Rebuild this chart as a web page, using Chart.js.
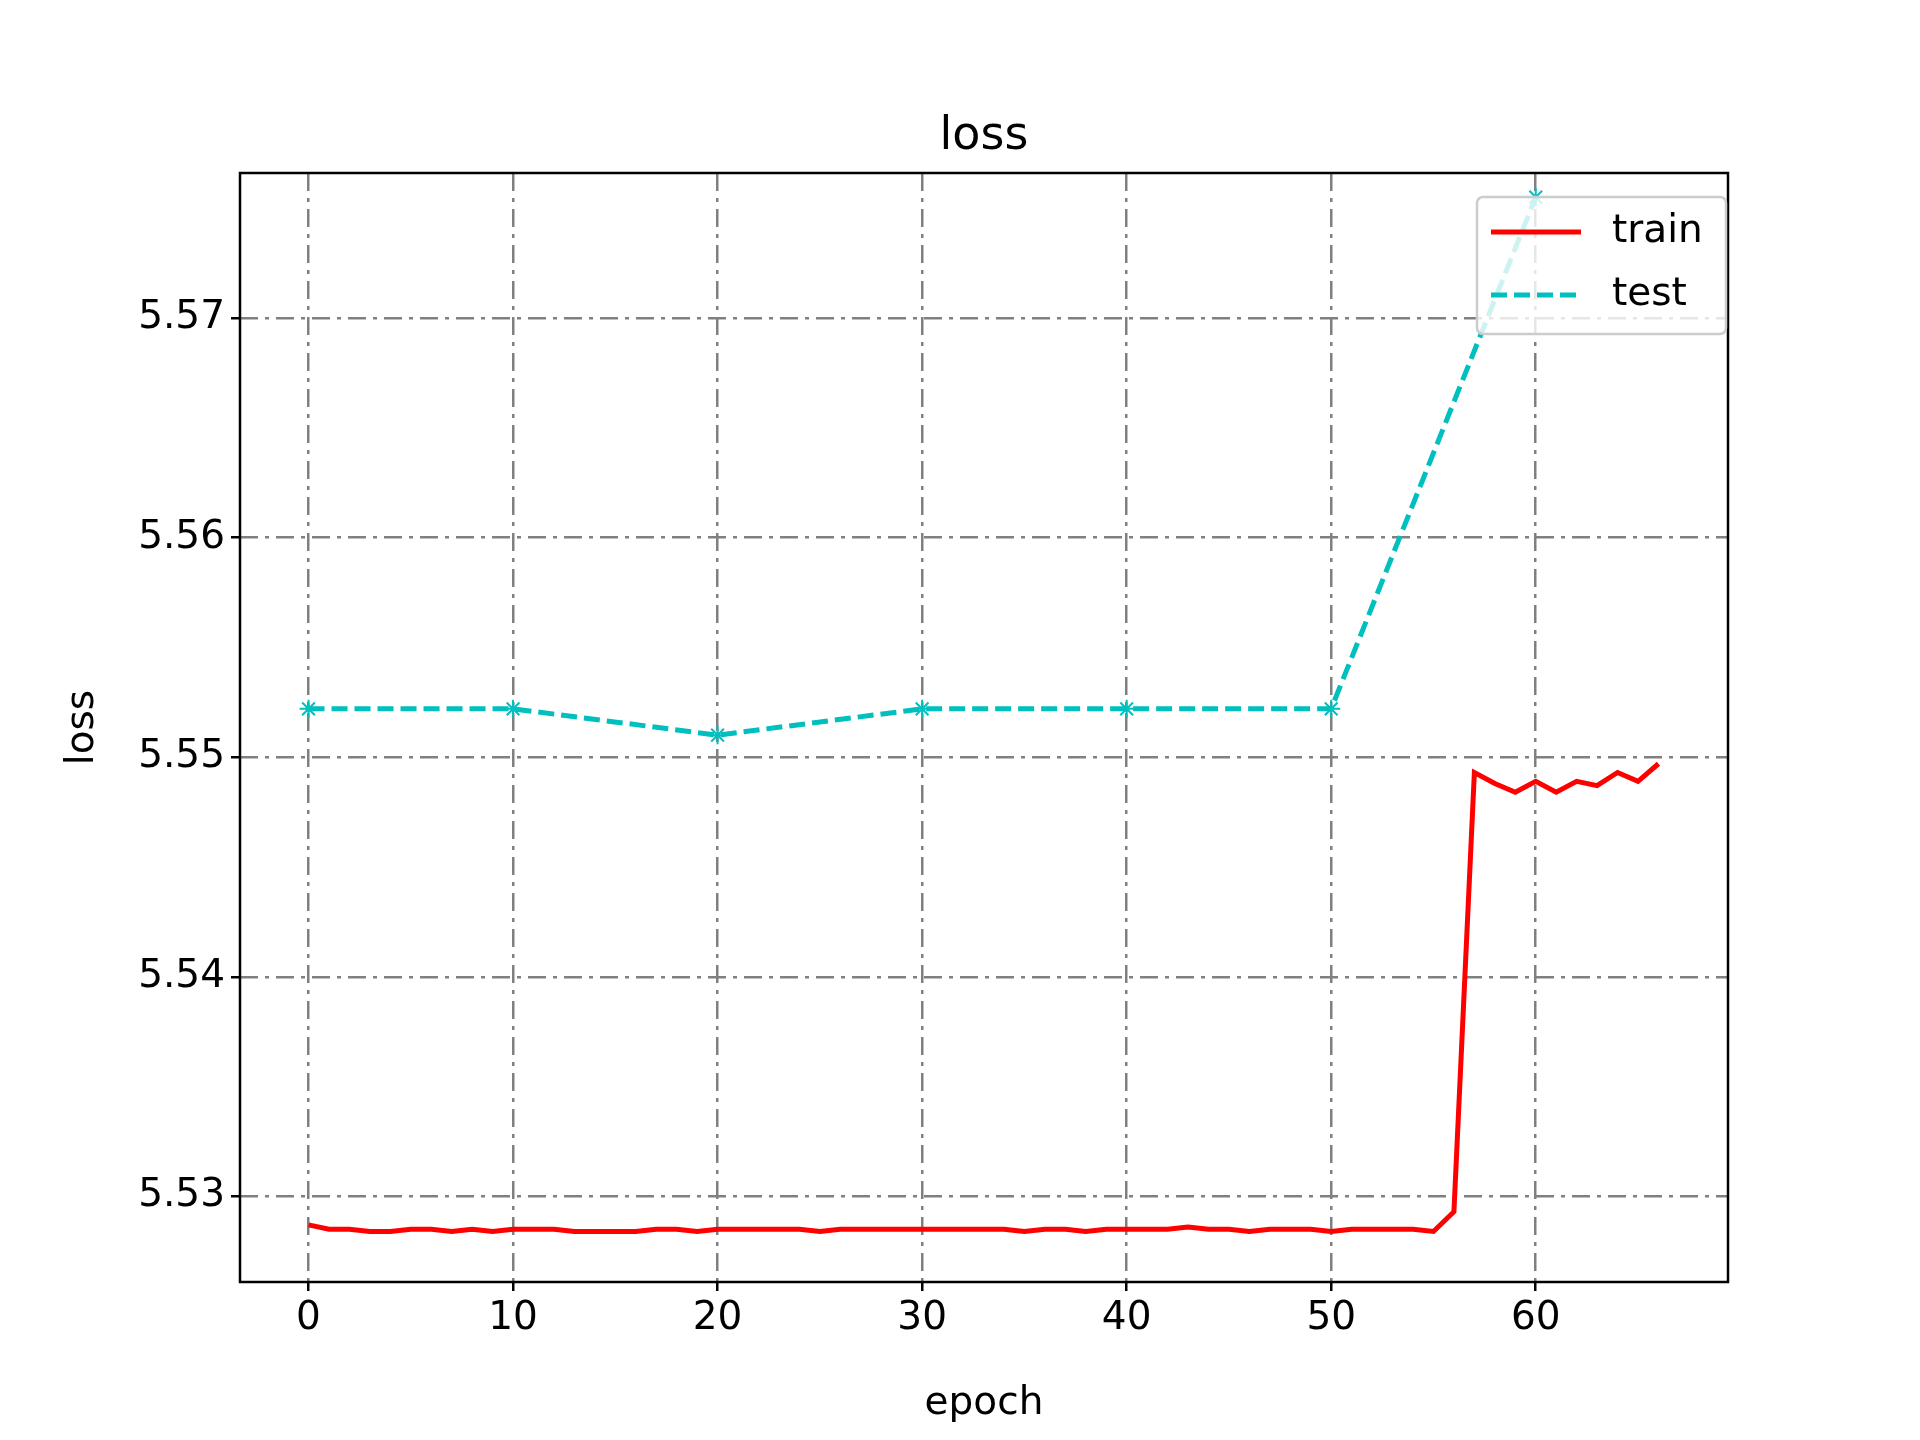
<!DOCTYPE html>
<html><head><meta charset="utf-8">
<script src="https://cdn.jsdelivr.net/npm/chart.js@4.4.0/dist/chart.umd.min.js"></script>
<style>html,body{margin:0;padding:0;background:#fff}canvas{display:block}</style>
</head><body>
<div style="width:1920px;height:1440px"><canvas id="c" width="1920" height="1440"></canvas></div>
<script>
const trainEpochs = Array.from({length:67},(_, i)=>i);
const trainLoss = [5.5287,5.5285,5.5285,5.5284,5.5284,5.5285,5.5285,5.5284,5.5285,5.5284,5.5285,5.5285,5.5285,5.5284,5.5284,5.5284,5.5284,5.5285,5.5285,5.5284,5.5285,5.5285,5.5285,5.5285,5.5285,5.5284,5.5285,5.5285,5.5285,5.5285,5.5285,5.5285,5.5285,5.5285,5.5285,5.5284,5.5285,5.5285,5.5284,5.5285,5.5285,5.5285,5.5285,5.5286,5.5285,5.5285,5.5284,5.5285,5.5285,5.5285,5.5284,5.5285,5.5285,5.5285,5.5285,5.5284,5.5293,5.5493,5.5488,5.5484,5.5489,5.5484,5.5489,5.5487,5.5493,5.5489,5.5497];
const testEpochs = [0,10,20,30,40,50,60];
const testLoss = [5.5522,5.5522,5.5510,5.5522,5.5522,5.5522,5.5755];
const xTicks = [0,10,20,30,40,50,60];
const yTicks = [5.53,5.54,5.55,5.56,5.57];
const FONT = "'DejaVu Sans'";
const overlay = {
  id:'overlay',
  afterDraw(ch){
    const c=ch.ctx, a=ch.chartArea;
    c.save();
    c.strokeStyle='#000'; c.lineWidth=2.5; c.setLineDash([]);
    c.strokeRect(a.left,a.top,a.right-a.left,a.bottom-a.top);
    c.fillStyle='#000'; c.font='46px '+FONT; c.textAlign='center'; c.textBaseline='alphabetic';
    c.fillText('loss',(a.left+a.right)/2,a.top-24);
    c.font='39px '+FONT; c.textBaseline='middle';
    c.fillText('epoch',(a.left+a.right)/2,1404);
    c.save(); c.translate(83,(a.top+a.bottom)/2); c.rotate(-Math.PI/2); c.fillText('loss',0,0); c.restore();
    // legend
    const w=249,h=137,x=1477,y=197;
    c.fillStyle='rgba(255,255,255,0.8)'; c.strokeStyle='#ccc'; c.lineWidth=2.5;
    c.beginPath(); c.roundRect(x,y,w,h,6); c.fill(); c.stroke();
    c.lineWidth=5;
    c.strokeStyle='#ff0000'; c.beginPath(); c.moveTo(x+14,y+35); c.lineTo(x+104,y+35); c.stroke();
    c.strokeStyle='#00bfbf'; c.setLineDash([16,7]); c.beginPath(); c.moveTo(x+14,y+98); c.lineTo(x+104,y+98); c.stroke();
    c.setLineDash([]);
    c.fillStyle='#000'; c.font='39px '+FONT; c.textAlign='left'; c.textBaseline='middle';
    c.fillText('train',x+135,y+35); c.fillText('test',x+135,y+98);
    c.restore();
  }
};
new Chart(document.getElementById('c'),{
  type:'scatter',
  data:{datasets:[
    {label:'train',data:trainEpochs.map((e,i)=>({x:e,y:trainLoss[i]})),showLine:true,borderColor:'#ff0000',borderWidth:5,pointRadius:0},
    {label:'test',data:testEpochs.map((e,i)=>({x:e,y:testLoss[i]})),showLine:true,borderColor:'#00bfbf',borderWidth:5,borderDash:[16,7],pointStyle:'star',pointRadius:9,pointBorderColor:'#00bfbf',pointBackgroundColor:'#00bfbf',pointBorderWidth:2}
  ]},
  options:{
    responsive:false,animation:false,devicePixelRatio:1,
    layout:{padding:{top:173,right:192,left:0,bottom:0}},
    plugins:{legend:{display:false},tooltip:{enabled:false}},
    scales:{
      x:{type:'linear',min:-3.35,max:69.4,
        afterBuildTicks(s){s.ticks=xTicks.map(v=>({value:v}));},
        afterFit(s){s.height=158;},
        ticks:{color:'#000',font:{family:FONT,size:39},padding:4,maxRotation:0},
        grid:{color:'#808080',lineWidth:2.5,tickColor:'#000',tickLength:9,tickBorderDash:[],tickWidth:2.5},
        border:{display:false,dash:[18,7,4,7]}},
      y:{min:5.5261,max:5.5766,
        afterBuildTicks(s){s.ticks=yTicks.map(v=>({value:v}));},
        afterFit(s){s.width=240;},
        ticks:{color:'#000',font:{family:FONT,size:39},padding:6,callback:v=>v.toFixed(2)},
        grid:{color:'#808080',lineWidth:2.5,tickColor:'#000',tickLength:9,tickBorderDash:[],tickWidth:2.5},
        border:{display:false,dash:[18,7,4,7]}}
    }
  },
  plugins:[overlay]
});
</script></body></html>
